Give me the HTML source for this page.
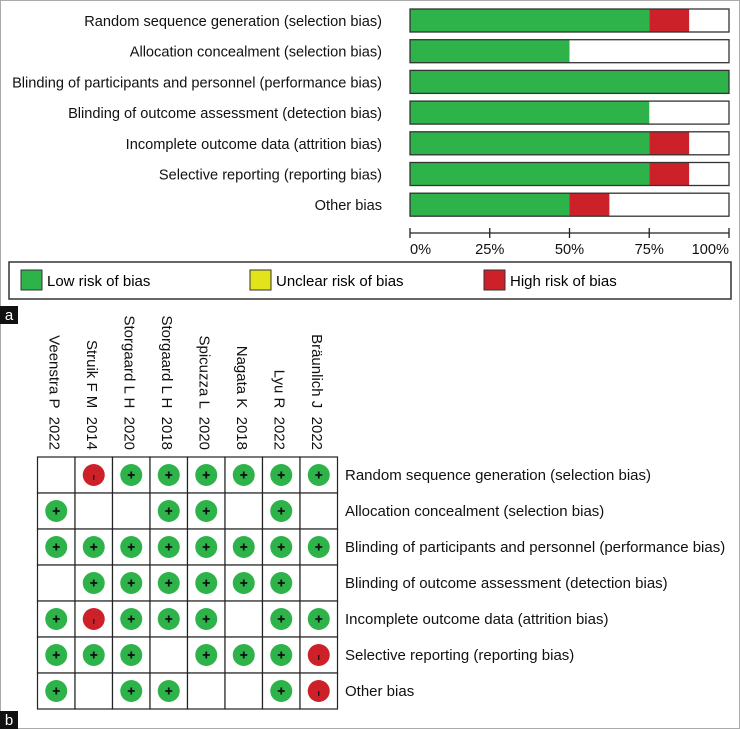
<!DOCTYPE html>
<html><head><meta charset="utf-8"><style>
body{margin:0;background:#fff;}
svg{display:block;font-family:"Liberation Sans",sans-serif;}
</style></head><body>
<svg width="740" height="729" viewBox="0 0 740 729">
<rect x="0.5" y="0.5" width="739" height="728" fill="#fff" stroke="#aaa"/>
<g id="topchart"></g>
<g id="legend">
<rect x="9" y="262" width="722" height="37" fill="#fff" stroke="#333" stroke-width="1.5"/>
<rect x="21" y="270" width="21" height="20" fill="#2db34a" stroke="#333"/>
<text x="47" y="286" font-size="15">Low risk of bias</text>
<rect x="250" y="270" width="21" height="20" fill="#e3e31b" stroke="#333"/>
<text x="276" y="286" font-size="15">Unclear risk of bias</text>
<rect x="484" y="270" width="21" height="20" fill="#cc2128" stroke="#333"/>
<text x="510" y="286" font-size="15">High risk of bias</text>
</g>
<rect x="0" y="306" width="18" height="18" fill="#111"/>
<text x="9" y="320" font-size="15" fill="#fff" text-anchor="middle">a</text>
<rect x="0" y="711" width="18" height="18" fill="#111"/>
<text x="9" y="725" font-size="15" fill="#fff" text-anchor="middle">b</text>
<g id="bottomchart"></g>
</svg>
<script>
const domains=["Random sequence generation (selection bias)","Allocation concealment (selection bias)","Blinding of participants and personnel (performance bias)","Blinding of outcome assessment (detection bias)","Incomplete outcome data (attrition bias)","Selective reporting (reporting bias)","Other bias"];
const lowPct=[75,50,100,75,75,75,50];
const unclearPct=[0,0,0,0,0,0,0];
const highPct=[12.5,0,0,0,12.5,12.5,12.5];
const xTicks=["0%","25%","50%","75%","100%"];
const studies=["Veenstra P  2022","Struik F M  2014","Storgaard L H  2020","Storgaard L H  2018","Spicuzza L  2020","Nagata K  2018","Lyu R  2022","Bräunlich J  2022"];
const judgments=[
["","-","+","+","+","+","+","+"],
["+","","","+","+","","+",""],
["+","+","+","+","+","+","+","+"],
["","+","+","+","+","+","+",""],
["+","-","+","+","+","","+","+"],
["+","+","+","","+","+","+","-"],
["+","","+","+","","","+","-"]];
const NS="http://www.w3.org/2000/svg";
function mk(p,t,a){const e=document.createElementNS(NS,t);for(const k in a)e.setAttribute(k,a[k]);p.appendChild(e);return e;}
const topG=document.getElementById('topchart');
const X0=410,X1=729;
const xs=v=>X0+(X1-X0)*v/100;
const rowY=i=>9+i*30.7;
domains.forEach((d,i)=>{
 const y=rowY(i);
 const t=mk(topG,'text',{x:382,y:y+17,'font-size':14.6,'text-anchor':'end',fill:'#111'});t.textContent=d;
 
 
 mk(topG,'rect',{x:X0,y:y,width:X1-X0,height:23,fill:'#fff'});
 const g=mk(topG,'rect',{x:X0,y:y,width:xs(lowPct[i])-X0,height:23,fill:'#2db34a'});
 
 
 const u=mk(topG,'rect',{x:xs(lowPct[i]),y:y,width:xs(unclearPct[i])-X0,height:23,fill:'#e3e31b'});
 
 
 const h=mk(topG,'rect',{x:xs(lowPct[i]+unclearPct[i]),y:y,width:xs(highPct[i])-X0,height:23,fill:'#cc2128'});
 
 
 const o=mk(topG,'rect',{x:X0,y:y,width:X1-X0,height:23,fill:'none',stroke:'#333','stroke-width':1.3});
 
 
});
const ax=mk(topG,'line',{x1:X0,x2:X1,y1:233,y2:233,stroke:'#222','stroke-width':1.3});


xTicks.forEach((l,i)=>{
 const x=xs(i*25);
 const tk=mk(topG,'line',{x1:x,x2:x,y1:228,y2:238,stroke:'#222','stroke-width':1.3});
 
 
 const t=mk(topG,'text',{x:i==0?X0:(i==4?X1:x),y:254,'font-size':14.6,'text-anchor':i==0?'start':(i==4?'end':'middle'),fill:'#111'});t.textContent=l;
 
 
});
const bot=document.getElementById('bottomchart');
const GX=37.5,GY=457,CW=37.5,CH=36;
studies.forEach((s,j)=>{
 const cx=GX+CW*j+CW/2;
 const t=mk(bot,'text',{x:0,y:0,'font-size':15,'text-anchor':'end',transform:`translate(${cx-7},450) rotate(90)`,fill:'#111'});t.textContent=s;
 t.style.whiteSpace='pre';
 
 
});
domains.forEach((d,i)=>{
 const cy=GY+CH*i+CH/2;
 const t=mk(bot,'text',{x:345,y:cy+5,'font-size':15,fill:'#111'});t.textContent=d;
 
 
 judgments[i].forEach((v,j)=>{
  const cx=GX+CW*j+CW/2;
  const c=mk(bot,'rect',{x:GX+CW*j,y:GY+CH*i,width:CW,height:CH,fill:'#fff',stroke:'#222','stroke-width':1.2});
  
  
  if(v){
   const ci=mk(bot,'circle',{cx:cx,cy:cy,r:11,fill:v=='+'?'#2db34a':'#cc2128'});
   
   
   if(v=='+'){
    mk(bot,'path',{d:`M${cx-3.5} ${cy}H${cx+3.5}M${cx} ${cy-3.5}V${cy+3.5}`,stroke:'#111','stroke-width':1.8});
   }else{
    mk(bot,'path',{d:`M${cx} ${cy}V${cy+5}`,stroke:'#111','stroke-width':1.2});
   }
  }
 });
});
</script>
</body></html>
